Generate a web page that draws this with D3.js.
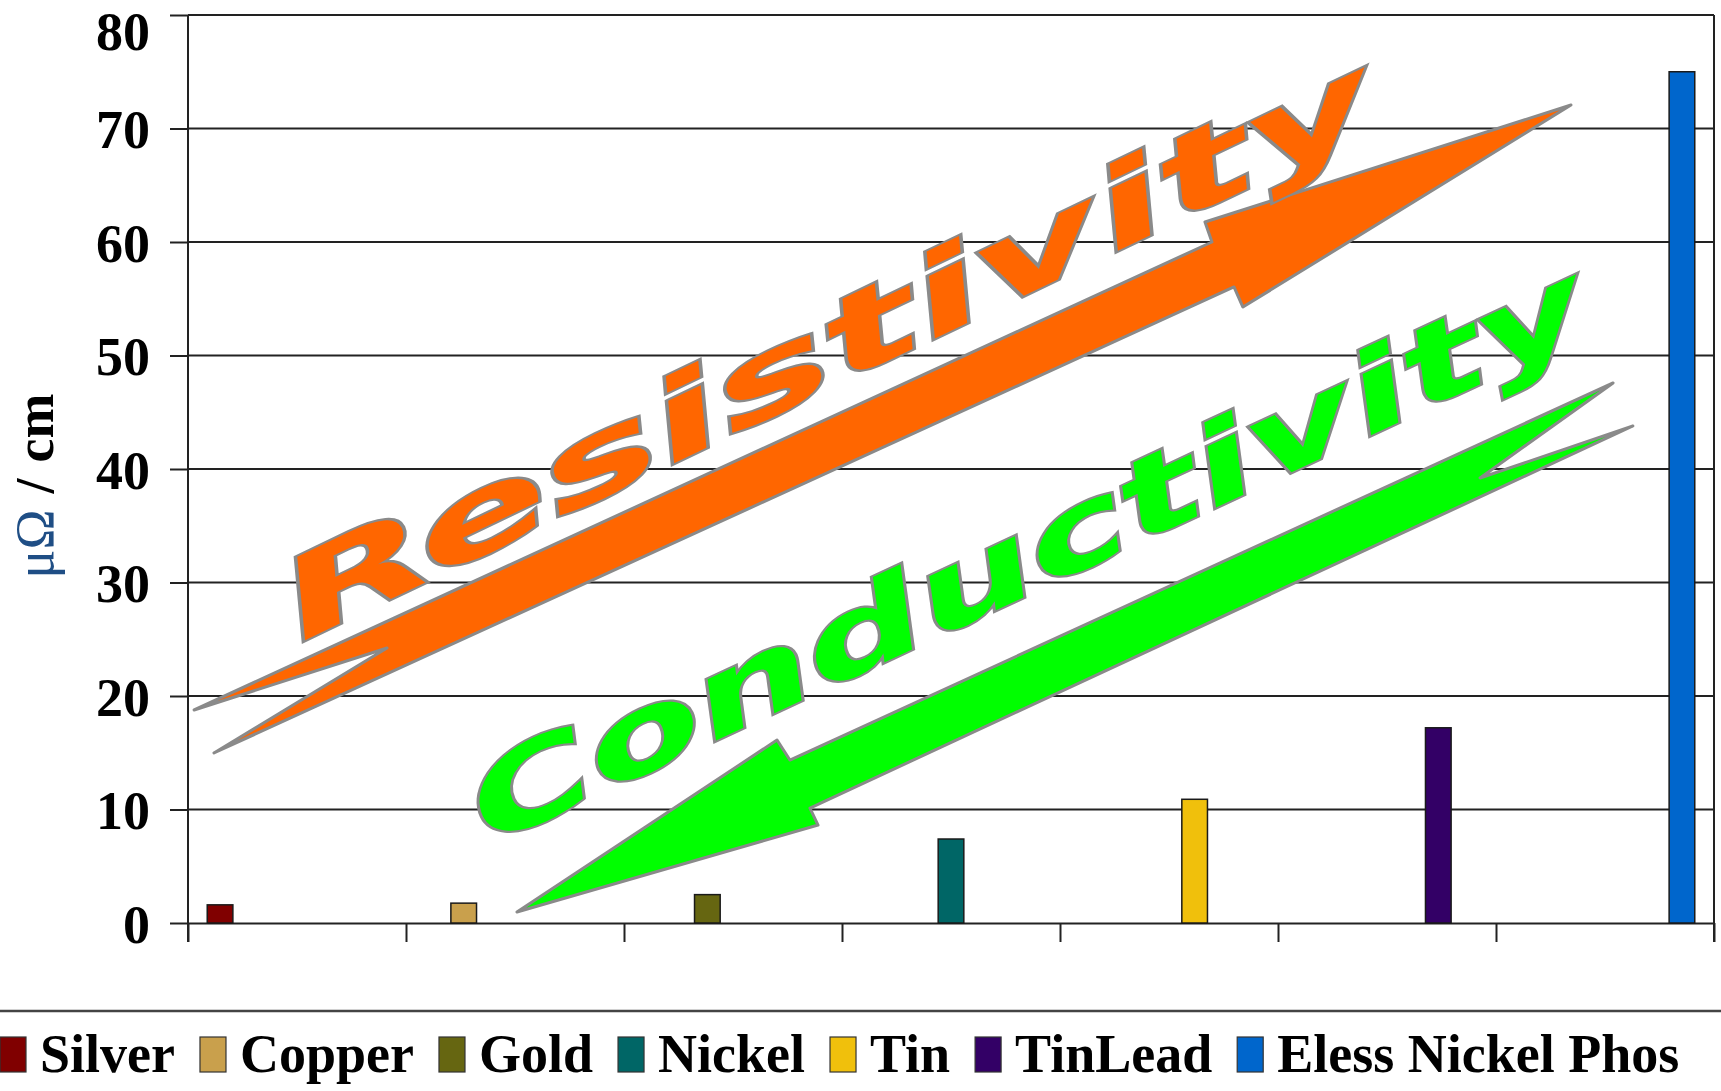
<!DOCTYPE html>
<html>
<head>
<meta charset="utf-8">
<script src="https://cdn.jsdelivr.net/npm/d3@7"></script>
<style>
  html, body { margin: 0; padding: 0; background: #fff; }
  svg { display: block; }
</style>
</head>
<body>
<div id="chart"></div>
<script>
// one bar per metal, each one sits in its own slot of its own category (Excel style)
const metals = ['Silver', 'Copper', 'Gold', 'Nickel', 'Tin', 'TinLead', 'Eless Nickel Phos'];
const resistivity = [1.6, 1.75, 2.5, 7.4, 10.9, 17.2, 75];
const metalColors = ['#800000', '#c9a04c', '#666611', '#006666', '#f0c00c', '#330066', '#0066cc'];
const yTicks = [0, 10, 20, 30, 40, 50, 60, 70, 80];

// decorative arrows, in data units (x = category position 0..7, y = value)
const resistArrow = [[0.028, 18.77], [4.697, 60.0], [4.665, 61.76], [6.344, 72.07],
                     [4.839, 54.27], [4.798, 56.04], [0.119, 14.98], [0.913, 24.23]];
const conductArrow = [[1.509, 0.97], [2.702, 16.12], [2.761, 14.36], [6.537, 47.58],
                      [5.927, 39.21], [6.628, 43.79], [2.853, 10.13], [2.890, 8.63]];
const arrowLabels = [
    { text: 'Resistivity', x: 0.52, y: 24.76, angle: -25.6, len: 1200, fill: '#ff6600' },
    { text: 'Conductivity', x: 1.385, y: 6.78, angle: -25.0, len: 1220, fill: '#00ff00' }
];

const width = 1721, height = 1091;
const plot = { left: 188, right: 1714, top: 15, bottom: 923 };
const serif = '"Liberation Serif", "Times New Roman", serif';

const svg = d3.select('#chart').append('svg')
    .attr('width', width)
    .attr('height', height)
    .style('background', '#fff');

const y = d3.scaleLinear().domain([0, 80]).range([plot.bottom, plot.top]);
const x0 = d3.scaleBand().domain(metals).range([plot.left, plot.right]).padding(0);
const x1 = d3.scaleBand().domain(metals).range([0, x0.bandwidth()])
    .paddingInner(0).paddingOuter(0.75);
// continuous version of the category axis, for ticks and the arrows
const xc = d3.scaleLinear().domain([0, metals.length]).range([plot.left, plot.right]);

// gridlines
svg.append('g')
    .selectAll('line')
    .data(yTicks.filter(d => d > 0))
    .enter()
    .append('line')
    .attr('x1', plot.left)
    .attr('x2', plot.right)
    .attr('y1', d => y(d))
    .attr('y2', d => y(d))
    .attr('stroke', '#222')
    .attr('stroke-width', 2);

// right border of the plot area
svg.append('line')
    .attr('x1', plot.right).attr('x2', plot.right)
    .attr('y1', plot.top).attr('y2', plot.bottom + 19)
    .attr('stroke', '#222').attr('stroke-width', 2);

// y axis
const yAxis = svg.append('g')
    .attr('transform', `translate(${plot.left},0)`)
    .call(d3.axisLeft(y).tickValues(yTicks).tickSize(18).tickPadding(20).tickSizeOuter(0));
yAxis.select('.domain').attr('stroke', '#222').attr('stroke-width', 2)
    .attr('d', `M0,${plot.top}V${plot.bottom + 19}`);
yAxis.selectAll('.tick line').attr('stroke', '#222').attr('stroke-width', 2);
yAxis.selectAll('.tick text')
    .attr('font-family', serif)
    .attr('font-weight', 'bold')
    .attr('font-size', 54)
    .attr('fill', '#000')
    // top label is pushed down so it stays inside the picture
    .attr('dy', d => d === 80 ? '0.64em' : '0.36em');

// x axis: ticks between categories, no labels
const xAxis = svg.append('g')
    .attr('transform', `translate(0,${plot.bottom})`)
    .call(d3.axisBottom(xc).tickValues(d3.range(0, metals.length + 1))
        .tickSize(19).tickFormat('').tickSizeOuter(0));
xAxis.select('.domain').attr('stroke', '#222').attr('stroke-width', 2);
xAxis.selectAll('.tick line').attr('stroke', '#222').attr('stroke-width', 2);

// bars
svg.append('g')
    .selectAll('rect')
    .data(metals)
    .enter()
    .append('rect')
    .attr('x', (d, i) => x0(d) + x1(d))
    .attr('y', (d, i) => y(resistivity[i]))
    .attr('width', x1.bandwidth())
    .attr('height', (d, i) => y(0) - y(resistivity[i]))
    .attr('fill', (d, i) => metalColors[i])
    .attr('stroke', '#1a1a1a')
    .attr('stroke-width', 1.5);

// arrows
const arrowLine = d3.line().x(d => xc(d[0])).y(d => y(d[1]));
svg.append('path')
    .attr('d', arrowLine(resistArrow) + 'Z')
    .attr('fill', '#ff6600')
    .attr('stroke', '#8a8a8a')
    .attr('stroke-width', 3)
    .attr('stroke-linejoin', 'round');
svg.append('path')
    .attr('d', arrowLine(conductArrow) + 'Z')
    .attr('fill', '#00ff00')
    .attr('stroke', '#8a8a8a')
    .attr('stroke-width', 3)
    .attr('stroke-linejoin', 'round');

svg.append('g')
    .selectAll('text')
    .data(arrowLabels)
    .enter()
    .append('text')
    .attr('transform', d => `translate(${xc(d.x)},${y(d.y)}) rotate(${d.angle})`)
    .attr('font-family', '"DejaVu Sans", sans-serif')
    .attr('font-weight', 'bold')
    .attr('font-style', 'italic')
    .attr('font-size', 108)
    .attr('textLength', d => d.len)
    .attr('lengthAdjust', 'spacingAndGlyphs')
    .attr('fill', d => d.fill)
    .attr('stroke', '#8a8a8a')
    .attr('stroke-width', 4)
    .attr('paint-order', 'stroke')
    .text(d => d.text);

// y axis title
const yTitle = svg.append('text')
    .attr('transform', `translate(53,${(plot.top + plot.bottom) / 2 + 17}) rotate(-90)`)
    .attr('text-anchor', 'middle')
    .attr('font-family', serif)
    .attr('font-size', 54);
yTitle.append('tspan').attr('fill', '#1f4e85').text('μΩ');
yTitle.append('tspan').attr('font-weight', 'bold').attr('fill', '#000').attr('dx', 16).text('/');
yTitle.append('tspan').attr('font-weight', 'bold').attr('fill', '#000').attr('dx', 16).text('cm');

// legend
svg.append('line')
    .attr('x1', 0).attr('x2', width)
    .attr('y1', 1011).attr('y2', 1011)
    .attr('stroke', '#444').attr('stroke-width', 2.5);

const legend = svg.append('g').attr('transform', 'translate(0,1072)');
let lx = 0;
metals.forEach((m, i) => {
    const item = legend.append('g').attr('transform', `translate(${lx},0)`);
    item.append('rect')
        .attr('x', 0).attr('y', -35)
        .attr('width', 26).attr('height', 35)
        .attr('fill', metalColors[i])
        .attr('stroke', '#333')
        .attr('stroke-width', 1.2);
    const t = item.append('text')
        .attr('x', 40)
        .attr('font-family', serif)
        .attr('font-weight', 'bold')
        .attr('font-size', 54)
        .attr('fill', '#000')
        .text(m);
    lx += 40 + t.node().getComputedTextLength() + 25;
});
</script>
</body>
</html>
